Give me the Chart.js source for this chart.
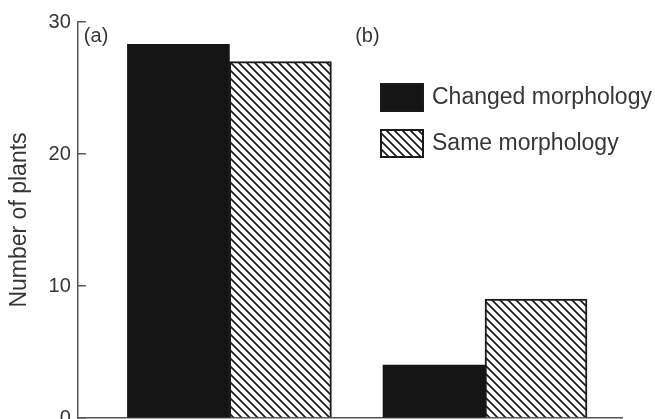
<!DOCTYPE html>
<html>
<head>
<meta charset="utf-8">
<script src="https://cdn.jsdelivr.net/npm/chart.js@4/dist/chart.umd.min.js"></script>
<style>
    html, body { margin: 0; padding: 0; background: #fff; }
</style>
</head>
<body>
<canvas id="chart" width="655" height="419"></canvas>
<script>
// Data
const panels = ['(a)', '(b)'];
const seriesNames = ['Changed morphology', 'Same morphology'];
const changedMorphology = [28.3, 4];
const sameMorphology = [27, 9];
const yTicks = [0, 10, 20, 30];

const ink = '#363636';
const fontFamily = '"Liberation Sans", Arial, sans-serif';

// Diagonal hatch used for the "same morphology" bars
function makeHatch() {
    let c = document.createElement('canvas');
    c.width = 8;
    c.height = 8;
    let g = c.getContext('2d');
    g.fillStyle = '#fff';
    g.fillRect(0, 0, 8, 8);
    g.strokeStyle = '#1a1a1a';
    g.lineWidth = 1.7;
    g.beginPath();
    g.moveTo(-2, -2); g.lineTo(10, 10);
    g.moveTo(-2, 6); g.lineTo(2, 10);
    g.moveTo(6, -2); g.lineTo(10, 2);
    g.stroke();
    return g.createPattern(c, 'repeat');
}

const hatch = makeHatch();

// groups sit at x = 1, 2 on a linear axis so the empty margins match the figure
function toPoints(values) {
    return values.map((v, i) => ({ x: i + 1, y: v }));
}

// the figure lets the end labels hang over the plot edges (the "0" is cut off)
function noEdgePadding(scale) {
    scale.paddingTop = 0;
    scale.paddingBottom = 0;
    scale.paddingLeft = 0;
    scale.paddingRight = 0;
}

// Panel labels and the legend box in the upper right
const extras = {
    id: 'extras',
    afterDraw(chart) {
        const ctx = chart.ctx;
        const area = chart.chartArea;
        const xs = chart.scales.x;
        ctx.save();
        ctx.fillStyle = ink;
        ctx.font = '20px ' + fontFamily;
        ctx.textBaseline = 'middle';
        ctx.textAlign = 'left';
        ctx.fillText(panels[0], area.left + 6, 36);
        ctx.fillText(panels[1], xs.getPixelForValue(1.5) - 2, 36);

        const rows = [84, 130];
        chart.data.datasets.forEach((ds, i) => {
            let y = rows[i];
            ctx.fillStyle = ds.backgroundColor;
            ctx.fillRect(381, y, 42, 27);
            ctx.strokeStyle = '#1a1a1a';
            ctx.lineWidth = 2;
            ctx.strokeRect(381, y, 42, 27);
            ctx.fillStyle = ink;
            ctx.font = '23px ' + fontFamily;
            ctx.fillText(ds.label, 432, y + 14);
        });
        ctx.restore();
    }
};

new Chart(document.getElementById('chart'), {
    type: 'bar',
    data: {
        datasets: [
            {
                label: seriesNames[0],
                data: toPoints(changedMorphology),
                backgroundColor: '#151515',
                borderWidth: 0
            },
            {
                label: seriesNames[1],
                data: toPoints(sameMorphology),
                backgroundColor: hatch,
                borderColor: '#1a1a1a',
                borderWidth: 2
            }
        ]
    },
    options: {
        responsive: false,
        animation: false,
        barThickness: 102,
        layout: {
            padding: { top: 22, right: 33, bottom: 1, left: -1 }
        },
        plugins: {
            legend: { display: false },
            tooltip: { enabled: false }
        },
        scales: {
            x: {
                type: 'linear',
                offset: false,
                min: 0.407,
                max: 2.536,
                afterFit: noEdgePadding,
                grid: { display: false, drawTicks: false },
                border: { display: true, color: '#555', width: 1.5 },
                ticks: { display: false }
            },
            y: {
                min: 0,
                max: 30,
                afterBuildTicks: scale => {
                    scale.ticks = yTicks.map(v => ({ value: v }));
                },
                afterFit: noEdgePadding,
                grid: {
                    drawOnChartArea: false,
                    drawTicks: true,
                    tickLength: -8,
                    color: '#555',
                    lineWidth: 1.5
                },
                border: { display: true, color: '#555', width: 1.5 },
                ticks: {
                    padding: 15,
                    color: ink,
                    font: { family: fontFamily, size: 20 }
                },
                title: {
                    display: true,
                    text: 'Number of plants',
                    color: ink,
                    font: { family: fontFamily, size: 23 },
                    padding: { top: 7, bottom: 0 }
                }
            }
        }
    },
    plugins: [extras]
});
</script>
</body>
</html>
